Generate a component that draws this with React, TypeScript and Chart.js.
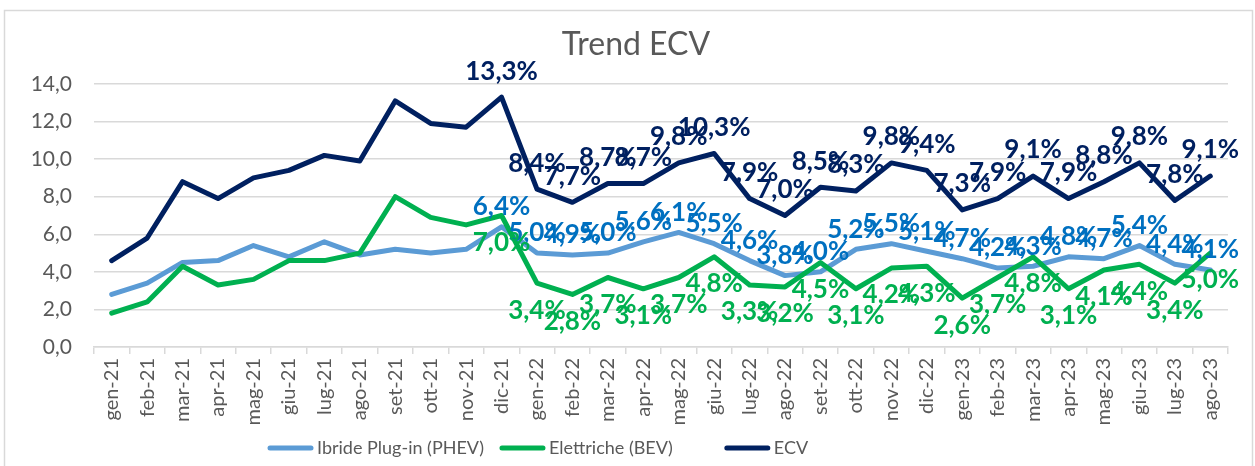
import React, { useEffect, useRef } from 'react';
import { Chart, registerables } from 'chart.js';

Chart.register(...registerables);

const months = [
  'gen-21', 'feb-21', 'mar-21', 'apr-21', 'mag-21', 'giu-21', 'lug-21', 'ago-21', 'set-21', 'ott-21', 'nov-21', 'dic-21',
  'gen-22', 'feb-22', 'mar-22', 'apr-22', 'mag-22', 'giu-22', 'lug-22', 'ago-22', 'set-22', 'ott-22', 'nov-22', 'dic-22',
  'gen-23', 'feb-23', 'mar-23', 'apr-23', 'mag-23', 'giu-23', 'lug-23', 'ago-23',
];

const phev = [2.8, 3.4, 4.5, 4.6, 5.4, 4.8, 5.6, 4.9, 5.2, 5.0, 5.2, 6.4,
  5.0, 4.9, 5.0, 5.6, 6.1, 5.5, 4.6, 3.8, 4.0, 5.2, 5.5, 5.1,
  4.7, 4.2, 4.3, 4.8, 4.7, 5.4, 4.4, 4.1];

const bev = [1.8, 2.4, 4.3, 3.3, 3.6, 4.6, 4.6, 5.0, 8.0, 6.9, 6.5, 7.0,
  3.4, 2.8, 3.7, 3.1, 3.7, 4.8, 3.3, 3.2, 4.5, 3.1, 4.2, 4.3,
  2.6, 3.7, 4.8, 3.1, 4.1, 4.4, 3.4, 5.0];

const ecv = [4.6, 5.8, 8.8, 7.9, 9.0, 9.4, 10.2, 9.9, 13.1, 11.9, 11.7, 13.3,
  8.4, 7.7, 8.7, 8.7, 9.8, 10.3, 7.9, 7.0, 8.5, 8.3, 9.8, 9.4,
  7.3, 7.9, 9.1, 7.9, 8.8, 9.8, 7.8, 9.1];

const seriesNames = ['Ibride Plug-in (PHEV)', 'Elettriche (BEV)', 'ECV'];
const lineColors = ['#5B9BD5', '#00B050', '#002060'];
const labelColors = ['#0070C0', '#00B050', '#002060'];
const labelOffsets = [-20, 27, -26];
const labelStartIndex = 11;
const chartTitle = 'Trend ECV';

const W = 1255;
const H = 466;
const FONT = 'Lato, "Open Sans", sans-serif';

const fmt = (v: number) => v.toFixed(1).replace('.', ',');

export default function App() {
  const ref = useRef<HTMLCanvasElement | null>(null);

  useEffect(() => {
    const canvas = ref.current;
    if (!canvas) return;

    const framePlugin = {
      id: 'frame',
      beforeDraw(chart: any) {
        const ctx = chart.ctx;
        ctx.save();
        ctx.fillStyle = '#ffffff';
        ctx.fillRect(0, 0, W, H);
        ctx.strokeStyle = '#D9D9D9';
        ctx.lineWidth = 1.5;
        ctx.strokeRect(4.5, 10.5, W - 7, H + 20);
        ctx.fillStyle = '#595959';
        ctx.font = `32px ${FONT}`;
        ctx.textAlign = 'center';
        ctx.textBaseline = 'middle';
        ctx.fillText(chartTitle, 636, 45);
        ctx.restore();
      },
    };

    const labelPlugin = {
      id: 'valueLabels',
      afterDatasetsDraw(chart: any) {
        const ctx = chart.ctx;
        ctx.save();
        ctx.font = `bold 26px ${FONT}`;
        ctx.textAlign = 'center';
        ctx.textBaseline = 'middle';
        chart.data.datasets.forEach((ds: any, di: number) => {
          const meta = chart.getDatasetMeta(di);
          ctx.fillStyle = labelColors[di];
          meta.data.forEach((pt: any, i: number) => {
            if (i < labelStartIndex) return;
            ctx.fillText(fmt(ds.data[i]) + '%', pt.x, pt.y + labelOffsets[di]);
          });
        });
        ctx.restore();
      },
    };

    const legendPlugin = {
      id: 'customLegend',
      afterDraw(chart: any) {
        const ctx = chart.ctx;
        ctx.save();
        ctx.font = `18px ${FONT}`;
        ctx.textBaseline = 'middle';
        const lineLen = 45;
        const gapText = 4;
        const gaps = [16, 52];
        let x = 268;
        const y = 448;
        seriesNames.forEach((n, i) => {
          ctx.strokeStyle = lineColors[i];
          ctx.lineWidth = 5;
          ctx.lineCap = 'round';
          ctx.beginPath();
          ctx.moveTo(x + 2, y);
          ctx.lineTo(x + lineLen - 2, y);
          ctx.stroke();
          ctx.fillStyle = '#595959';
          ctx.fillText(n, x + lineLen + gapText, y);
          x += lineLen + gapText + ctx.measureText(n).width + (gaps[i] || 0);
        });
        ctx.restore();
      },
    };

    const mk = (i: number, data: number[], order: number) => ({
      label: seriesNames[i],
      data,
      borderColor: lineColors[i],
      backgroundColor: lineColors[i],
      borderWidth: 5,
      pointRadius: 0,
      tension: 0,
      borderJoinStyle: 'round',
      borderCapStyle: 'round',
      order,
    });

    const chart = new Chart(canvas, {
      type: 'line',
      data: {
        labels: months,
        datasets: [mk(0, phev, 2), mk(1, bev, 1), mk(2, ecv, 0)] as any,
      },
      options: {
        responsive: false,
        animation: false,
        layout: { padding: { left: 0, right: 27, top: 84, bottom: 40 } },
        plugins: {
          legend: { display: false },
          title: { display: false },
          tooltip: { enabled: false },
        },
        scales: {
          x: {
            offset: true,
            grid: {
              offset: true,
              drawOnChartArea: false,
              drawTicks: true,
              tickLength: 7,
              color: '#D9D9D9',
              lineWidth: 1.5,
            },
            border: { display: true, color: '#D9D9D9', width: 1.5 },
            ticks: {
              color: '#595959',
              font: { family: FONT, size: 20 },
              minRotation: 90,
              maxRotation: 90,
              autoSkip: false,
              padding: 4,
            },
            afterFit(scale: any) {
              scale.height = 79;
            },
          },
          y: {
            min: 0,
            max: 14,
            grid: { color: '#D9D9D9', lineWidth: 1.5, drawTicks: false },
            border: { display: false },
            ticks: {
              stepSize: 2,
              color: '#595959',
              font: { family: FONT, size: 21 },
              padding: 22,
              callback: (v: any) => fmt(Number(v)),
            },
            afterFit(scale: any) {
              scale.width = 94;
            },
          },
        },
      },
      plugins: [framePlugin, labelPlugin, legendPlugin],
    });

    return () => chart.destroy();
  }, []);

  return (
    <div style={{ position: 'fixed', left: 0, top: 0, width: W, height: H, background: '#fff' }}>
      <canvas ref={ref} width={W} height={H} style={{ width: W, height: H, display: 'block' }} />
    </div>
  );
}
